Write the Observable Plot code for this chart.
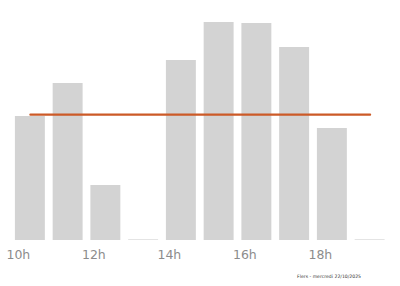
<!DOCTYPE html>
<html>
<head>
<meta charset="utf-8">
<script src="https://cdn.jsdelivr.net/npm/d3@7"></script>
<script src="https://cdn.jsdelivr.net/npm/@observablehq/plot@0.6"></script>
<style>
  html, body { margin: 0; padding: 0; background: #fff; }
  #chart { width: 400px; height: 286px; }
</style>
</head>
<body>
<div id="chart"></div>
<script>
const hours = [10, 11, 12, 13, 14, 15, 16, 17, 18, 19];
const values = [124, 157, 55, 0.6, 180, 218, 217, 193, 112, 0.6];
const tickHours = [10, 12, 14, 16, 18];
const average = 125.8;
const caption = "Flers - mercredi 22/10/2025";

const data = hours.map((h, i) => ({x1: h - 0.5, x2: h + 0.5, value: values[i]}));
const avgLine = [{hour: hours[0], value: average}, {hour: hours[hours.length - 1], value: average}];

const chart = Plot.plot({
  width: 400,
  height: 286,
  marginLeft: 11,
  marginRight: 11.5,
  marginTop: 20,
  marginBottom: 46,
  style: {background: "#fff", fontFamily: "DejaVu Sans"},
  x: {domain: [9.5, 19.5], axis: null},
  y: {domain: [0, 220], axis: null},
  marks: [
    Plot.rectY(data, {x1: "x1", x2: "x2", y: "value", fill: "#d3d3d3", insetLeft: 3.9, insetRight: 3.9}),
    Plot.line(avgLine, {x: "hour", y: "value", stroke: "#cc5a27", strokeWidth: 2.2}),
    Plot.axisX(tickHours, {
      label: null, tickSize: 0, tickPadding: 10, dx: -12, fontSize: 12.5,
      fill: "#8c8c8c", tickFormat: d => d + "h"
    }),
    Plot.text([caption], {
      frameAnchor: "bottom-right", dx: -28, dy: 37, fontSize: 4.6, fill: "#333",
      text: d => d
    })
  ]
});
document.getElementById("chart").append(chart);
</script>
</body>
</html>
